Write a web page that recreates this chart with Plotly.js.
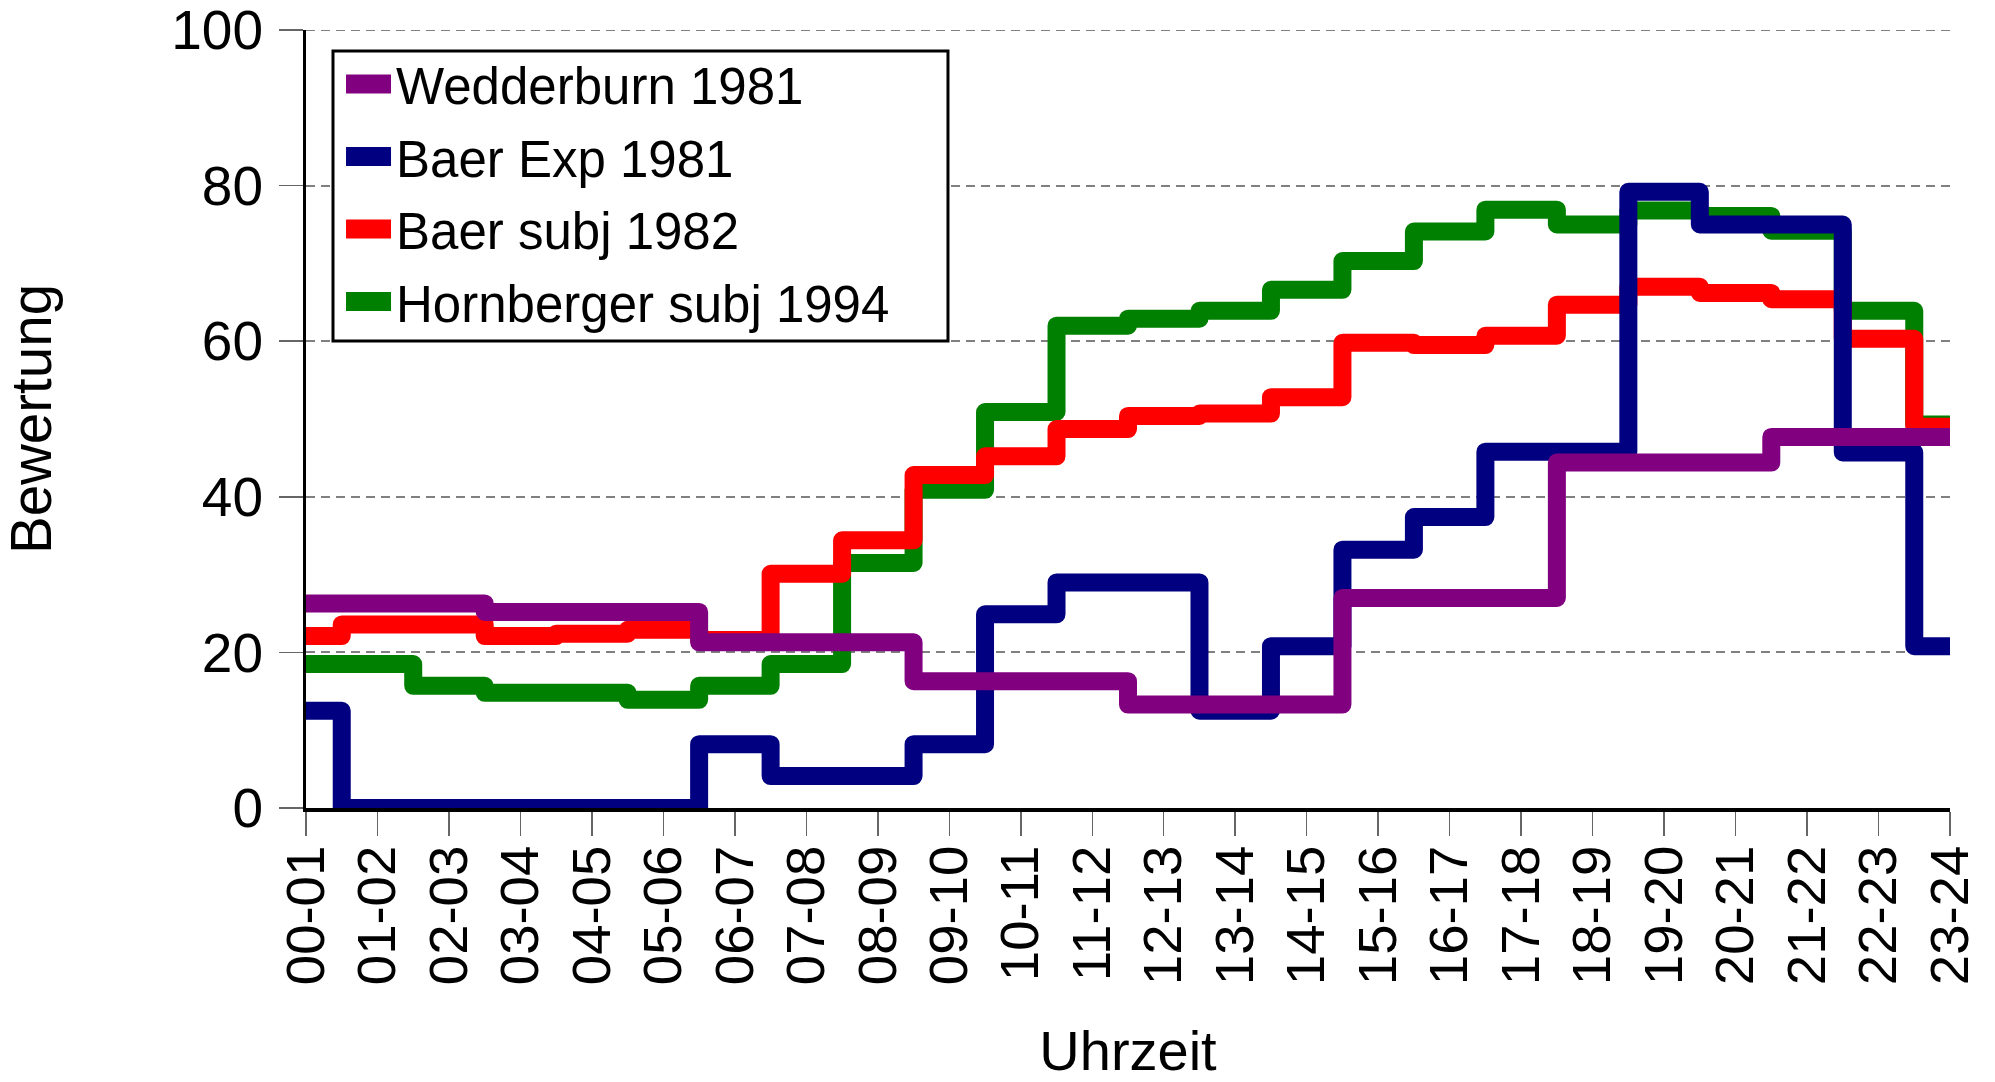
<!DOCTYPE html>
<html>
<head>
<meta charset="utf-8">
<script src="https://cdn.plot.ly/plotly-3.0.1.min.js"></script>
<style>
  html, body { margin: 0; padding: 0; background: #fff; }
  #chart { width: 1995px; height: 1082px; }
  .scatterlayer .js-line { stroke-linejoin: round; }
  .legend .legendlines path { stroke-width: 19px !important; }
</style>
</head>
<body>
<div id="chart"></div>
<script>
// Hour intervals (x categories)
const hours = ['00-01','01-02','02-03','03-04','04-05','05-06','06-07','07-08','08-09','09-10','10-11','11-12',
               '12-13','13-14','14-15','15-16','16-17','17-18','18-19','19-20','20-21','21-22','22-23','23-24'];

// Series values (Bewertung)
const wedderburn1981 = [26.3, 26.3, 26.3, 25.2, 25.2, 25.2, 21.3, 21.3, 21.3, 16.3, 16.3, 16.3,
                        13.3, 13.3, 13.3, 27.0, 27.0, 27.0, 44.4, 44.4, 44.4, 47.7, 47.7, 47.7];
const baerExp1981    = [12.5, 0, 0, 0, 0, 0, 8.2, 4.1, 4.1, 8.2, 24.9, 29.0,
                        29.0, 12.5, 20.8, 33.2, 37.4, 45.8, 45.8, 79.2, 75.0, 75.0, 45.7, 20.8];
const baerSubj1982   = [22.1, 23.6, 23.6, 22.1, 22.4, 22.9, 21.6, 30.1, 34.4, 42.8, 45.2, 48.7,
                        50.4, 50.7, 52.8, 59.8, 59.5, 60.7, 64.7, 67.0, 66.2, 65.4, 60.3, 49.0];
const hornberger1994 = [18.5, 18.5, 15.7, 14.8, 14.8, 13.9, 15.7, 18.5, 31.5, 40.9, 50.9, 62.0,
                        62.9, 63.9, 66.6, 70.3, 74.1, 76.9, 75.0, 76.8, 76.1, 74.2, 63.9, 49.3];

const yTicks = [0, 20, 40, 60, 80, 100];

const FONT = 'Liberation Sans, Arial, Helvetica, sans-serif';
const LW = 18;

function series(name, y, color, rank) {
  return {
    type: 'scatter', mode: 'lines', name: name, legendgroup: name, legendrank: rank,
    x: hours, y: y,
    line: { shape: 'hvh', color: color, width: LW },
    hoverinfo: 'skip'
  };
}

// drawing order: green (bottom), red, blue, purple (top)
const data = [
  series('Hornberger subj 1994', hornberger1994, '#008000', 4),
  series('Baer subj 1982', baerSubj1982, '#FF0000', 3),
  series('Baer Exp 1981', baerExp1981, '#000080', 2),
  series('Wedderburn 1981', wedderburn1981, '#800080', 1)
];

const layout = {
  width: 1995, height: 1082,
  margin: { l: 306, r: 45, t: 30, b: 274, pad: 0 },
  paper_bgcolor: '#fff', plot_bgcolor: '#fff',
  font: { family: FONT, color: '#000', size: 54 },
  showlegend: true,
  xaxis: {
    type: 'category',
    categoryorder: 'array', categoryarray: hours,
    range: [0, 23],
    showgrid: false, zeroline: false,
    showline: true, linecolor: '#000', linewidth: 4,
    ticks: 'outside', ticklen: 24, tickwidth: 1.5, tickcolor: '#666',
    tickangle: -90,
    tickfont: { family: FONT, size: 54.5, color: '#000' },
    ticklabelstandoff: -12,
    ticklabeloverflow: 'allow',
    automargin: false,
    title: { text: 'Uhrzeit', font: { family: FONT, size: 56, color: '#000' }, standoff: 66 }
  },
  yaxis: {
    range: [0, 100],
    tickmode: 'array', tickvals: yTicks, ticktext: yTicks.map(String),
    showgrid: true, gridcolor: '#808080', gridwidth: 2, griddash: '9px,6px',
    zeroline: false,
    showline: true, linecolor: '#000', linewidth: 3,
    ticks: 'outside', ticklen: 24, tickwidth: 1.5, tickcolor: '#666',
    tickfont: { family: FONT, size: 55, color: '#000' },
    ticklabelstandoff: 5,
    ticklabeloverflow: 'allow',
    automargin: false,
    title: { text: 'Bewertung', font: { family: FONT, size: 56.5, color: '#000' }, standoff: 111 }
  },
  legend: {
    x: 0.0213, y: 0.9814, xanchor: 'left', yanchor: 'top',
    bgcolor: 'rgba(0,0,0,0)', borderwidth: 0,
    traceorder: 'grouped', tracegroupgap: 3.2,
    itemwidth: 45,
    font: { family: FONT, size: 51, color: '#000' }
  },
  shapes: [
    { // gridline at the top value (Plotly omits the grid line at the range edge)
      type: 'line', xref: 'paper', yref: 'y', layer: 'below',
      x0: 0, x1: 1, y0: yTicks[yTicks.length - 1], y1: yTicks[yTicks.length - 1],
      line: { color: '#808080', width: 2, dash: '9px,6px' }
    },
    { // legend frame
      type: 'rect', xref: 'paper', yref: 'paper', layer: 'above',
      x0: 0.01642, x1: 0.3905, y0: 0.6003, y1: 0.9730,
      line: { color: '#000', width: 3 }, fillcolor: '#fff'
    }
  ]
};

Plotly.newPlot('chart', data, layout, { staticPlot: true, displayModeBar: false });
</script>
</body>
</html>
